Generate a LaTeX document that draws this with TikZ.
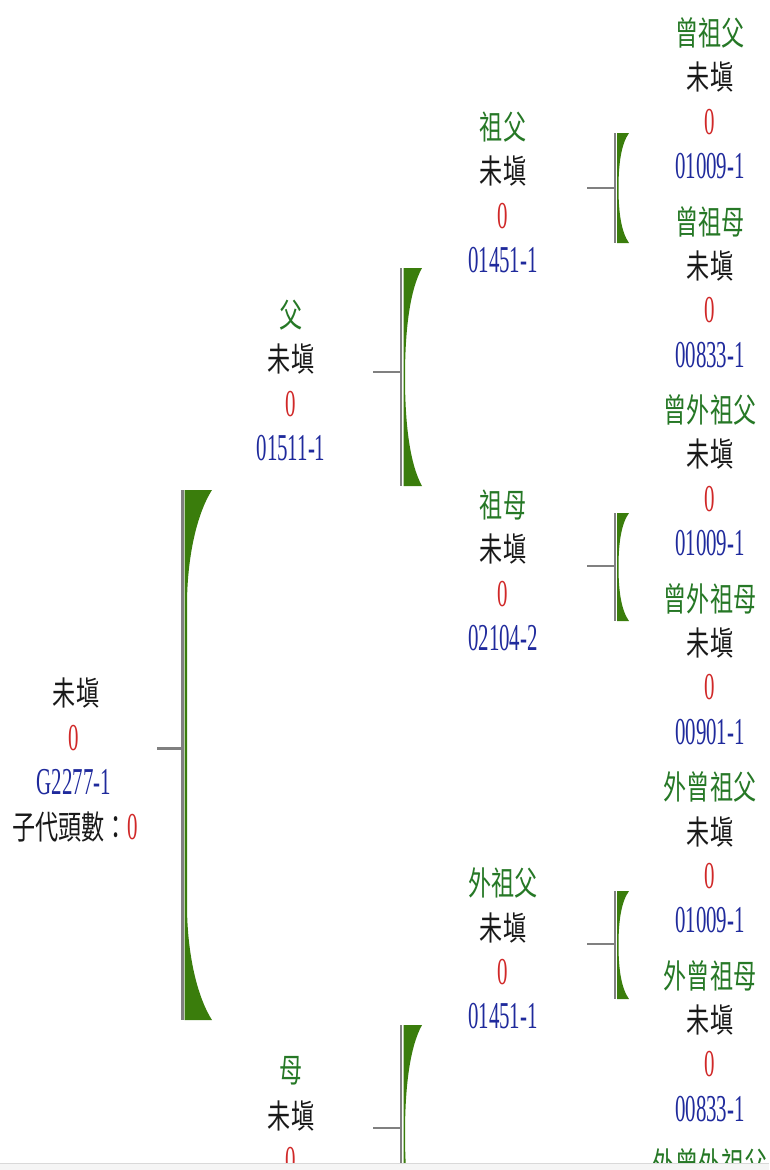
\documentclass[tikz,border=0pt]{standalone}
\usepackage{fontspec}
\usepackage{graphicx}
\setmainfont{Liberation Serif}
\newfontfamily\cjkfont{Noto Sans CJK TC}
\definecolor{tgreen}{HTML}{267826}
\definecolor{bgreen}{HTML}{3A7D0C}
\definecolor{zred}{HTML}{D02828}
\definecolor{zblue}{HTML}{1F2A9C}
\definecolor{lgray}{HTML}{808080}
\newcommand\cj[1]{\scalebox{0.7}[1]{\fontsize{33}{33}\cjkfont #1}}
\newcommand\dg[1]{\scalebox{0.55}[1]{\fontsize{38}{38}\selectfont #1}}
\tikzset{
  lbl/.style={text=tgreen, inner sep=0},
  nm/.style={text=black!90, inner sep=0},
  zero/.style={text=zred, inner sep=0},
  code/.style={text=zblue, inner sep=0},
  gline/.style={draw=lgray, line width=2.5pt},
}
\newcommand\gen[5]{%
  \node[lbl] (#1a) at (#2,#3) {\cj{#4}};
  \node[nm] (#1b) at (#2,#3+44.5) {\cj{未塡}};
  \node[zero] (#1c) at (#2,#3+89) {\dg{0}};
  \node[code] (#1d) at (#2,#3+133.5) {\dg{#5}};
}
% #1 green left x, #2 top, #3 bottom, #4 width
\newcommand\brk[4]{%
  \fill[bgreen] (#1,#2) -- ({#1+#4},#2)
    .. controls ({#1+0.35*#4},{#2+0.1*(#3-#2)}) and ({#1+1.5},{#2+0.28*(#3-#2)}) .. ({#1+1.5},{(#2+#3)/2})
    .. controls ({#1+1.5},{#3-0.28*(#3-#2)}) and ({#1+0.35*#4},{#3-0.1*(#3-#2)}) .. ({#1+#4},#3)
    -- (#1,#3) -- cycle;}
\begin{document}
\begin{tikzpicture}[x=1pt,y=-1pt]
\useasboundingbox (0,0) rectangle (769,1170);
\begin{scope}
\clip (0,0) rectangle (769,1163);
% root
\node[nm] (r1) at (76,693) {\cj{未塡}};
\node[zero] (r2) at (74,738) {\dg{0}};
\node[code] (r3) at (74,782) {\dg{G2277-1}};
\node[nm] (r4) at (75,827) {\cj{子代頭數：}\textcolor{zred}{\dg{0}}};
% root bracket
\coordinate (rs) at (157,748);
\coordinate (rm) at (182,748);
\coordinate (rt) at (182,490);
\coordinate (rbt) at (182,1020);
\draw[gline, line width=3pt] (rt) -- (rbt);
\draw[gline, line width=3pt] (rs) -- (rm);
\fill[bgreen] (184.5,490) -- (212,490)
  .. controls (196,515) and (187,560) .. (187,605) -- (187,905)
  .. controls (187,950) and (196,995) .. (212,1020) -- (184.5,1020) -- cycle;
% column 2
\gen{f}{291}{315}{父}{01511-1}
\node[lbl] (ma) at (291,1071) {\cj{母}};
\node[nm] (mb) at (291,1115.5) {\cj{未塡}};
\node[zero] (mc) at (291,1160) {\dg{0}};
% father bracket
\coordinate (fs) at (373,372);
\coordinate (fm) at (401,372);
\coordinate (ft) at (401,268);
\coordinate (fbt) at (401,486);
\draw[gline] (ft) -- (fbt);
\draw[gline] (fs) -- (fm);
\brk{403.5}{268}{486}{18.5}
% mother bracket
\coordinate (ms) at (373,1128);
\coordinate (mm) at (401,1128);
\coordinate (mt) at (401,1025);
\coordinate (mbt) at (401,1243);
\draw[gline] (mt) -- (mbt);
\draw[gline] (ms) -- (mm);
\brk{403.5}{1025}{1243}{18.5}
% column 3
\gen{gf}{503}{127}{祖父}{01451-1}
\gen{gm}{503}{505}{祖母}{02104-2}
\gen{mgf}{503}{883}{外祖父}{01451-1}
% small brackets
\coordinate (s1s) at (587,188);
\coordinate (s1m) at (615,188);
\coordinate (s1t) at (615,133);
\coordinate (s1b) at (615,243);
\draw[gline, line width=2pt] (s1t) -- (s1b);
\draw[gline, line width=2pt] (s1s) -- (s1m);
\brk{617}{133}{243}{12}
\coordinate (s2s) at (587,566);
\coordinate (s2m) at (615,566);
\coordinate (s2t) at (615,513);
\coordinate (s2b) at (615,621);
\draw[gline, line width=2pt] (s2t) -- (s2b);
\draw[gline, line width=2pt] (s2s) -- (s2m);
\brk{617}{513}{621}{12}
\coordinate (s3s) at (587,944);
\coordinate (s3m) at (615,944);
\coordinate (s3t) at (615,891);
\coordinate (s3b) at (615,999);
\draw[gline, line width=2pt] (s3t) -- (s3b);
\draw[gline, line width=2pt] (s3s) -- (s3m);
\brk{617}{891}{999}{12}
% column 4
\gen{g1}{710}{33}{曾祖父}{01009-1}
\gen{g2}{710}{221.5}{曾祖母}{00833-1}
\gen{g3}{710}{410}{曾外祖父}{01009-1}
\gen{g4}{710}{598.5}{曾外祖母}{00901-1}
\gen{g5}{710}{787}{外曾祖父}{01009-1}
\gen{g6}{710}{975.5}{外曾祖母}{00833-1}
\node[lbl] (g7a) at (710,1164) {\cj{外曾外祖父}};
\end{scope}
\fill[black!4] (0,1163) rectangle (769,1170);
\draw[black!15, line width=1pt] (0,1163) -- (769,1163);
\end{tikzpicture}
\end{document}
